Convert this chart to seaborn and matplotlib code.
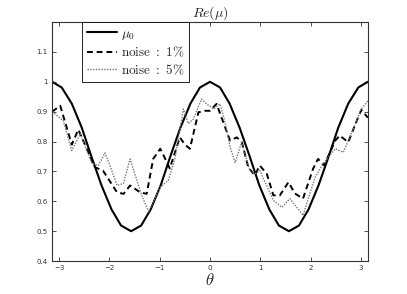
import numpy as np
import pandas as pd
import matplotlib
matplotlib.use("Agg")
import matplotlib.pyplot as plt
import seaborn as sns

sns.set_style("ticks")
plt.rcParams['font.family'] = ['DejaVu Sans']
plt.rcParams['mathtext.fontset'] = 'cm'

# exact curve mu_0
theta_exact = [-3.14, -2.95, -2.75, -2.55, -2.36, -2.16, -1.96, -1.77, -1.57,
               -1.37, -1.18, -0.98, -0.79, -0.59, -0.39, -0.20, 0.0, 0.20, 0.39,
               0.59, 0.79, 0.98, 1.18, 1.37, 1.57, 1.77, 1.96, 2.16, 2.36, 2.55,
               2.75, 2.95, 3.14]
mu_exact = [1.0, 0.981, 0.927, 0.846, 0.75, 0.654, 0.573, 0.519, 0.5,
            0.519, 0.573, 0.654, 0.75, 0.846, 0.927, 0.981, 1.0, 0.981, 0.927,
            0.846, 0.75, 0.654, 0.573, 0.519, 0.5, 0.519, 0.573, 0.654, 0.75, 0.846,
            0.927, 0.981, 1.0]

# noise 1 %
theta_n1 = [-3.14, -2.98, -2.75, -2.62, -2.29, -2.13, -1.85, -1.72, -1.59, -1.39,
            -1.26, -1.13, -0.99, -0.89, -0.80, -0.60, -0.50, -0.40, -0.30, -0.23,
            -0.10, 0.0, 0.13, 0.30, 0.40, 0.53, 0.63, 0.76, 0.89, 0.99, 1.13, 1.26,
            1.39, 1.56, 1.69, 1.85, 2.05, 2.15, 2.27, 2.49, 2.58, 2.75, 2.92, 3.01, 3.14]
mu_n1 = [0.90, 0.92, 0.79, 0.84, 0.714, 0.703, 0.63, 0.625, 0.653, 0.63,
         0.625, 0.742, 0.776, 0.742, 0.71, 0.814, 0.79, 0.776, 0.848, 0.898,
         0.903, 0.903, 0.926, 0.848, 0.803, 0.814, 0.80, 0.714, 0.687, 0.72, 0.692, 0.62,
         0.62, 0.664, 0.626, 0.609, 0.709, 0.742, 0.72, 0.803, 0.82, 0.798, 0.87, 0.906, 0.88]

# noise 5 %
theta_n5 = [-3.14, -2.92, -2.75, -2.58, -2.35, -2.22, -2.09, -1.99, -1.85, -1.72,
            -1.59, -1.36, -1.22, -0.99, -0.83, -0.70, -0.53, -0.43, -0.33, -0.17,
            -0.07, 0.07, 0.20, 0.30, 0.40, 0.50, 0.63, 0.79, 0.89, 0.99, 1.26, 1.43,
            1.59, 1.85, 2.09, 2.25, 2.49, 2.65, 2.85, 3.01, 3.14]
mu_n5 = [0.90, 0.87, 0.77, 0.826, 0.726, 0.72, 0.762, 0.72, 0.653, 0.66,
         0.742, 0.62, 0.565, 0.648, 0.67, 0.742, 0.909, 0.86, 0.876, 0.942,
         0.926, 0.909, 0.926, 0.864, 0.781, 0.73, 0.798, 0.703, 0.692, 0.703, 0.603, 0.58,
         0.609, 0.553, 0.68, 0.726, 0.776, 0.764, 0.842, 0.909, 0.936]

fig = plt.figure(figsize=(4.07, 2.94), dpi=100)
ax = fig.add_axes([0.128, 0.112, 0.776, 0.813])

sns.lineplot(x=theta_exact, y=mu_exact, ax=ax, color='black', lw=1.5,
             label=r'$\mu_0$', sort=False)
sns.lineplot(x=theta_n1, y=mu_n1, ax=ax, color='black', lw=1.4,
             linestyle=(0, (3, 2)), label=r'$\mathrm{noise\ :\ 1\%}$', sort=False)
sns.lineplot(x=theta_n5, y=mu_n5, ax=ax, color='#777777', lw=1.0,
             linestyle=(0, (1, 1)), label=r'$\mathrm{noise\ :\ 5\%}$', sort=False)

ax.set_xlim(-np.pi, np.pi)
ax.set_ylim(0.4, 1.2)
ax.set_xticks([-3, -2, -1, 0, 1, 2, 3])
ax.set_yticks([0.4, 0.5, 0.6, 0.7, 0.8, 0.9, 1.0, 1.1])
ax.set_yticklabels(['0.4', '0.5', '0.6', '0.7', '0.8', '0.9', '1', '1.1'])
ax.tick_params(direction='in', length=3, width=0.6, labelsize=5, top=True, right=True,
               colors='#333333', pad=3)
for s in ax.spines.values():
    s.set_visible(True)
    s.set_linewidth(0.8)
    s.set_color('#333333')

ax.set_title(r'$Re(\mu)$', fontsize=10, pad=4)
ax.set_xlabel(r'$\theta$', fontsize=12, labelpad=0)
ax.set_ylabel('')

leg = ax.legend(loc='upper left', bbox_to_anchor=(0.095, 1.0), fontsize=9.5,
                fancybox=False, edgecolor='black', framealpha=1,
                handlelength=2.3, borderpad=0.35, labelspacing=0.25, handletextpad=0.3,
                borderaxespad=0)
leg.get_frame().set_linewidth(0.6)

fig.savefig('out.png', dpi=100)
